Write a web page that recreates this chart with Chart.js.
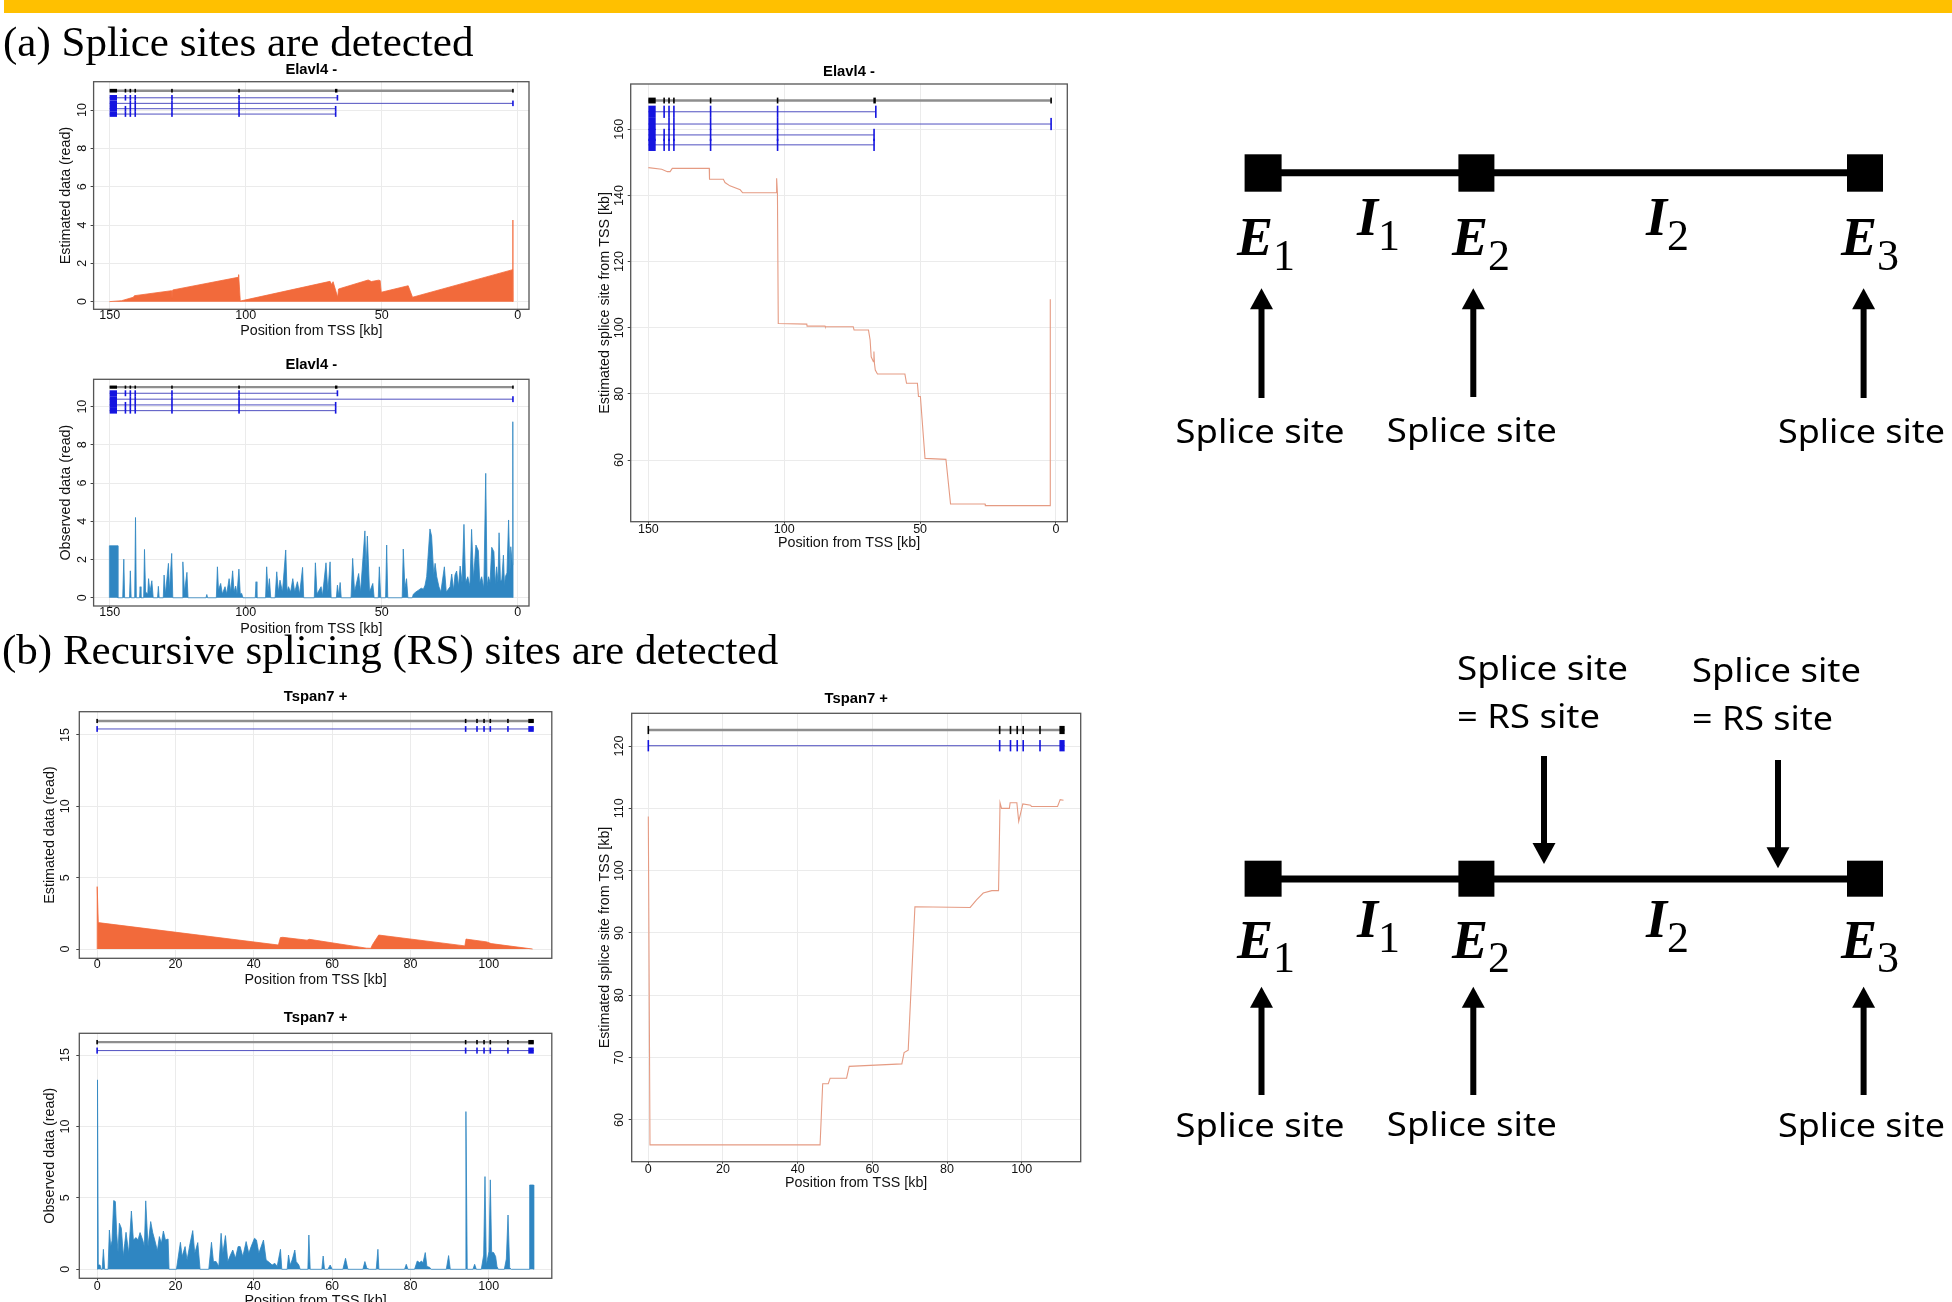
<!DOCTYPE html>
<html>
<head>
<meta charset="utf-8">
<script src="https://cdn.jsdelivr.net/npm/chart.js@4.4.1/dist/chart.umd.min.js"></script>
<style>
  html, body { margin: 0; padding: 0; background: #fff; }
  #page { position: relative; width: 1952px; height: 1302px; overflow: hidden; background: #fff; }
  #page canvas { position: absolute; }
  #bar { position: absolute; left: 4px; top: 0; width: 1948px; height: 13px; background: #ffc000; }
  #overlay { position: absolute; left: 0; top: 0; }
  .sec { font-family: 'Liberation Serif', 'Times New Roman', serif; font-size: 43px; }
  .ex { font-family: 'Liberation Serif', 'Times New Roman', serif; font-size: 54px; font-weight: bold; font-style: italic; }
  .sub { font-family: 'Liberation Serif', 'Times New Roman', serif; font-weight: normal; font-style: normal; font-size: 44px; }
  .lab { font-family: 'Noto Sans', 'Open Sans', sans-serif; font-size: 33px; }
</style>
</head>
<body>
<div id="page">
  <div id="bar"></div>
  <canvas id="a1"></canvas>
  <canvas id="a2"></canvas>
  <canvas id="a3"></canvas>
  <canvas id="b1"></canvas>
  <canvas id="b2"></canvas>
  <canvas id="b3"></canvas>
  <svg id="overlay" width="1952" height="1302">
    <text class="sec" x="3" y="56">(a) Splice sites are detected</text>
    <text class="sec" x="2" y="664">(b) Recursive splicing (RS) sites are detected</text>

    <!-- (a) exon / intron schematic -->
    <line x1="1263" y1="172.8" x2="1865" y2="172.8" stroke="#000" stroke-width="7"/>
    <rect x="1244.6" y="154.3" width="37" height="37.4"/>
    <rect x="1458.4" y="154.3" width="36" height="37.4"/>
    <rect x="1847" y="154.3" width="36" height="37.4"/>
    <text class="ex" x="1237" y="255">E<tspan class="sub" dy="15">1</tspan></text>
    <text class="ex" x="1357" y="235">I<tspan class="sub" dy="15">1</tspan></text>
    <text class="ex" x="1452" y="255">E<tspan class="sub" dy="15">2</tspan></text>
    <text class="ex" x="1646" y="235">I<tspan class="sub" dy="15">2</tspan></text>
    <text class="ex" x="1841" y="255">E<tspan class="sub" dy="15">3</tspan></text>
    <rect x="1258.5" y="306" width="6" height="92"/>
    <polygon points="1261.5,288.3 1250,309.3 1273,309.3"/>
    <rect x="1470.3" y="306" width="6" height="91"/>
    <polygon points="1473.3,288.3 1461.8,309.3 1484.8,309.3"/>
    <rect x="1860.6" y="306" width="6" height="92"/>
    <polygon points="1863.6,288.3 1852.1,309.3 1875.1,309.3"/>
    <text class="lab" x="1175.6" y="443.3" textLength="169" lengthAdjust="spacingAndGlyphs">Splice site</text>
    <text class="lab" x="1386.8" y="441.7" textLength="170" lengthAdjust="spacingAndGlyphs">Splice site</text>
    <text class="lab" x="1778" y="443" textLength="167" lengthAdjust="spacingAndGlyphs">Splice site</text>

    <!-- (b) schematic with recursive splicing sites -->
    <text class="lab" x="1457" y="680" textLength="171" lengthAdjust="spacingAndGlyphs">Splice site</text>
    <text class="lab" x="1457" y="728.3" textLength="143" lengthAdjust="spacingAndGlyphs">= RS site</text>
    <text class="lab" x="1692" y="681.7" textLength="169" lengthAdjust="spacingAndGlyphs">Splice site</text>
    <text class="lab" x="1692" y="730" textLength="141" lengthAdjust="spacingAndGlyphs">= RS site</text>
    <rect x="1541" y="756" width="6" height="90"/>
    <polygon points="1544,864 1532.5,843 1555.5,843"/>
    <rect x="1775" y="760" width="6" height="90"/>
    <polygon points="1778,868.3 1766.5,847.3 1789.5,847.3"/>
    <line x1="1263" y1="879" x2="1865" y2="879" stroke="#000" stroke-width="7"/>
    <rect x="1244.6" y="860.7" width="37" height="36"/>
    <rect x="1458.4" y="860.7" width="36" height="36"/>
    <rect x="1847" y="860.7" width="36" height="36"/>
    <text class="ex" x="1237" y="958.3">E<tspan class="sub" dy="14">1</tspan></text>
    <text class="ex" x="1357" y="936.7">I<tspan class="sub" dy="15">1</tspan></text>
    <text class="ex" x="1452" y="958.3">E<tspan class="sub" dy="14">2</tspan></text>
    <text class="ex" x="1646" y="936.7">I<tspan class="sub" dy="15">2</tspan></text>
    <text class="ex" x="1841" y="958.3">E<tspan class="sub" dy="14">3</tspan></text>
    <rect x="1258.5" y="1004" width="6" height="91"/>
    <polygon points="1261.5,986.7 1250,1007.7 1273,1007.7"/>
    <rect x="1470.3" y="1004" width="6" height="91"/>
    <polygon points="1473.3,986.7 1461.8,1007.7 1484.8,1007.7"/>
    <rect x="1860.6" y="1004" width="6" height="91"/>
    <polygon points="1863.6,986.7 1852.1,1007.7 1875.1,1007.7"/>
    <text class="lab" x="1175.6" y="1136.7" textLength="169" lengthAdjust="spacingAndGlyphs">Splice site</text>
    <text class="lab" x="1386.8" y="1136" textLength="170" lengthAdjust="spacingAndGlyphs">Splice site</text>
    <text class="lab" x="1778" y="1136.7" textLength="167" lengthAdjust="spacingAndGlyphs">Splice site</text>
  </svg>
</div>
<script>
// ---- data: [position from TSS (kb), value] ----
const estElavl4 = [[150.1,0],[145.6,0.05],[141.3,0.23],[140.9,0.31],[127.3,0.57],[127.1,0.17],[126.8,0.61],
  [102.8,1.27],[102.6,1.41],[102.0,0.03],[69.0,1.06],[68.4,0.89],[67.9,1.04],[66.2,0.23],[65.9,0.66],
  [55.0,1.13],[53.8,1.05],[51.2,1.12],[50.6,1.10],[50.2,0.49],[40.3,0.83],[38.7,0.23],[1.9,1.67],[1.85,4.26],[1.8,0]];

const obsElavl4 = [
  [150.1,0],[150.1,2.72],[147.0,2.72],[147.0,0],[145.2,0],[144.8,2.02],[144.5,0],[142.7,0],[142.4,1.41],[142.1,0],
  [140.8,0],[140.5,4.2],[140.2,0],[139.0,0],[138.8,0.58],[138.5,0],[137.5,0],[137.2,2.53],[136.8,0.3],[136.0,0.2],
  [135.7,1.0],[135.2,0.3],[134.5,0.89],[134.0,0],[132.4,0],[132.1,0.6],[131.8,0],[130.3,0],[130.0,1.19],[129.5,0.2],
  [128.4,1.8],[128.0,0.4],[127.2,2.32],[126.8,0],[123.4,0],[123.1,1.88],[122.5,0.3],[121.6,1.33],[121.2,0],
  [114.6,0],[114.3,0.17],[114.0,0],[110.8,0],[110.4,1.62],[110.0,0.4],[109.2,0.75],[108.6,0.2],[107.6,0.58],
  [107.0,0.2],[106.1,1.0],[105.5,0.3],[104.8,1.41],[104.3,0.3],[103.7,0.61],[103.2,0.2],[102.5,1.5],[102.0,0.2],
  [101.5,0.23],[101.0,0],[96.5,0],[96.2,0.84],[95.9,0],[92.7,0],[92.3,1.62],[91.8,0.3],[91.3,1.0],[90.8,0],
  [89.2,0],[88.6,1.36],[88.0,0.3],[87.4,0.92],[86.5,0.3],[85.3,2.5],[84.8,0.3],[84.3,0.58],[83.5,0.3],[82.7,1.0],
  [82.0,0.3],[81.0,0.84],[80.2,0.2],[79.1,1.59],[78.7,0],[74.8,0],[74.4,1.83],[73.8,0.2],[72.3,0.58],[71.8,0.1],
  [70.5,1.83],[69.8,0.3],[69.0,1.88],[68.6,0],[66.7,0],[66.3,0.66],[65.8,0.1],[65.3,0.8],[64.9,0],
  [61.3,0],[60.7,2.06],[60.0,0.3],[58.5,1.27],[57.8,0.3],[56.2,3.5],[55.8,1.5],[55.3,3.23],[54.5,0.3],[53.3,0.75],
  [52.8,0],[51.3,0],[50.9,1.62],[50.4,0],[48.6,0],[48.2,2.76],[47.8,0],[42.5,0],[42.1,2.55],[41.5,0.5],[40.9,1.0],
  [40.4,0],[38.8,0],[38.4,0.19],[37.5,0.3],[36.5,0.4],[35.5,0.5],[34.7,0.45],[34.1,0.66],[33.5,1.1],[32.3,3.6],
  [31.7,3.23],[30.9,1.2],[30.4,1.8],[29.8,1.1],[29.0,0.58],[28.3,0.3],[27.0,1.62],[26.3,0.3],[24.9,0.58],[24.3,1.24],
  [23.6,0.4],[23.1,1.19],[22.5,1.4],[21.8,0.6],[21.2,1.66],[20.5,0.8],[19.8,3.84],[19.2,0.8],[18.4,1.1],[17.6,0.6],
  [17.0,3.58],[16.3,1.0],[15.4,2.76],[14.5,2.46],[14.0,0.8],[13.3,1.1],[12.5,0.5],[11.8,6.51],[11.3,0.6],[10.8,1.1],
  [10.2,0.8],[9.6,2.64],[8.8,2.41],[8.3,0.7],[7.8,1.62],[7.3,0.8],[6.9,3.4],[6.4,0.9],[5.9,0.92],[5.3,2.23],
  [4.9,0.6],[4.6,1.1],[4.0,1.3],[3.4,4.07],[2.9,1.3],[2.6,2.67],[2.0,1.71],[1.85,9.21],[1.75,0]];

const siteElavl4 = [[150,148.4],[145.1,147.9],[143,147.2],[142,147.2],[141.2,148.2],[127.6,148.2],[127.5,144.9],
  [122.4,144.9],[121.8,143.9],[120,142.9],[116.2,141.7],[115.3,140.8],[102.9,140.8],[102.8,145.2],[102.5,140.6],
  [102.2,101.3],[91.7,101.1],[91.6,100.5],[85,100.5],[84.9,100.3],[74.6,100.3],[74.3,99.3],[69.0,99.3],[68.4,96.3],
  [68.0,91.2],[67.2,89.7],[67.0,92.8],[66.8,89.2],[66.5,87.2],[65.7,86.0],[55.6,86.0],[55.0,83.2],[51.0,83.2],
  [50.6,79.2],[49.9,79.2],[48.2,60.5],[40.5,60.2],[38.8,46.7],[26.1,46.7],[26.0,46.2],[2.2,46.2],[2.1,108.6]];

const estTspan7 = [[0,0],[0.02,4.37],[0.3,1.85],[46.3,0.28],[46.8,0.80],[47.4,0.82],[53.6,0.62],[54.2,0.68],
  [68.8,0.06],[69.9,0.05],[70.3,0.30],[71.9,0.98],[93.9,0.22],[94.2,0.70],[94.6,0.68],[99.5,0.50],[100.6,0.38],[111.2,0]];

const obsTspan7 = [
  [0.0,0],[0.1,13.26],[0.3,0.3],[0.74,0.3],[1.0,0],[1.3,0],[1.6,1.4],[1.93,0],[2.79,0],[3.13,2.75],[3.47,1.59],
  [3.81,2.0],[4.23,4.81],[4.66,4.74],[5.0,2.52],[5.34,1.2],[5.68,3.22],[6.19,2.87],[6.7,0.89],[7.04,1.8],[7.38,2.59],
  [8.07,1.12],[8.75,4.08],[9.26,2.05],[9.94,2.22],[10.45,2.05],[10.96,2.57],[11.64,2.05],[12.07,1.6],[12.41,4.79],
  [13.0,1.59],[13.68,3.34],[14.2,2.57],[14.71,2.05],[15.39,1.3],[15.9,2.29],[16.41,1.82],[16.92,2.68],[17.44,2.05],
  [18.12,2.12],[18.37,0],[20.25,0],[21.27,1.89],[21.7,0.89],[22.46,1.59],[22.97,0.65],[23.74,1.82],[24.42,2.71],
  [24.93,1.12],[25.7,1.87],[26.29,0],[28.51,0],[29.2,1.89],[29.7,0.54],[30.38,0.54],[31.07,0.2],[31.66,2.52],
  [32.09,1.1],[32.77,2.36],[33.37,0.54],[34.05,1.0],[34.64,1.35],[35.32,0.77],[36.0,1.59],[36.52,1.59],[37.2,0.89],
  [38.05,1.94],[38.73,1.12],[39.33,1.59],[40.18,2.17],[40.69,2.05],[41.29,1.12],[42.48,2.05],[43.16,0.65],
  [44.01,0.47],[44.69,0.3],[45.37,0.42],[45.97,0.2],[46.82,1.4],[47.16,0],[48.53,0],[48.87,1.0],[49.29,0.3],
  [49.8,0.65],[50.48,1.35],[50.83,0.54],[51.51,0.3],[51.85,0],[53.81,0],[54.07,2.4],[54.41,0],[57.38,0],[57.72,0.93],
  [58.06,0],[58.92,0],[59.51,0.3],[60.03,0],[62.75,0],[63.43,0.77],[64.03,0],[67.86,0],[68.37,0.54],[68.88,0.07],
  [69.56,0],[71.27,0],[71.7,1.4],[71.95,0],[78.51,0],[78.94,0.35],[79.36,0],[81.06,0],[81.74,0.58],[82.34,0.47],
  [82.85,0.58],[83.19,0.42],[83.79,1.17],[84.21,0.2],[84.9,0.14],[85.32,0],[89.16,0],[89.75,0.96],[90.18,0],
  [94.0,0],[94.17,11.04],[94.51,0],[95.97,0],[96.4,0.35],[96.82,0],[98.1,0],[98.7,1.0],[99.04,6.49],[99.38,0.3],
  [100.06,1.24],[100.4,6.26],[100.74,1.2],[101.25,1.17],[101.76,0.89],[102.1,0.2],[102.44,0],[103.98,0],
  [104.49,0.72],[104.92,3.8],[105.35,0.1],[105.77,0],[110.45,0],[110.45,5.9],[111.47,5.9],[111.47,0]];

const siteTspan7 = [[0,108.7],[0.45,56.0],[46.0,56.0],[46.7,65.8],[48.2,65.8],[48.7,66.7],[53.1,66.7],[53.8,68.6],
  [67.9,69.0],[68.5,70.8],[69.6,71.2],[71.4,94.2],[86.2,94.1],[87.9,95.3],[89.7,96.4],[92.0,96.8],[93.8,96.8],
  [94.2,110.9],[94.6,110.0],[96.7,110.0],[96.9,110.9],[98.7,110.9],[99.2,107.9],[100.3,110.7],[102.4,110.5],
  [102.6,110.3],[109.6,110.3],[110.3,111.4],[111.2,111.3]];

// tick values
const ticksElavl4X = [150, 100, 50, 0];
const ticksTspan7X = [0, 20, 40, 60, 80, 100];
const ticksReadsA = [0, 2, 4, 6, 8, 10];
const ticksReadsB = [0, 5, 10, 15];
const ticksSiteA = [60, 80, 100, 120, 140, 160];
const ticksSiteB = [60, 70, 80, 90, 100, 110, 120];

// gene models (kb); an exon is [start, end] or a single position
const elavl4Gene = { span: [150, 1.8], exons: [[150, 147.3], [144.2], [142.4], [140.6], [127.1], [102.6, 102.3], [67.2, 66.3], [1.8]] };
const elavl4Transcripts = [
  { end: 66.3, exons: [[150, 147.3], [144.2], [142.4], [140.6], [127.1], [102.6, 102.3], [66.3]] },
  { end: 1.8,  exons: [[150, 147.3], [142.4], [140.6], [127.1], [102.6, 102.3], [1.8]] },
  { end: 66.9, exons: [[150, 147.3], [144.2], [142.4], [140.6], [127.1], [102.6, 102.3], [67.1, 66.8]] },
  { end: 66.9, exons: [[150, 147.3], [144.2], [142.4], [140.6], [127.1], [102.6, 102.3], [67.1, 66.8]] }
];
const tspan7Gene = { span: [0, 111.5], exons: [[0], [94.1], [97.0], [98.8], [100.4], [104.9], [110.1, 111.5]] };
const tspan7Transcripts = [
  { end: 111.5, exons: [[0], [94.1], [97.0], [98.8], [100.4], [104.9], [110.1, 111.5]] }
];

// track heights in each panel's own y units: gene line first, then transcripts
const levelsA1 = [11.01, 10.64, 10.35, 10.07, 9.79];
const levelsA2 = [11.02, 10.70, 10.39, 10.09, 9.79];
const levelsA3 = [168.7, 165.3, 161.6, 158.3, 155.3];
const levelsB1 = [15.98, 15.42];
const levelsB2 = [15.90, 15.31];
const levelsB3 = [122.57, 120.05];

// ---- drawing ----
const FONT = "'Liberation Sans', Arial, Helvetica, sans-serif";
const TITLE_FS = 14.8, TICK_FS = 12.5, AXIS_FS = 14.3;
const TITLE_LH = TITLE_FS * 1.2, TICK_LH = TICK_FS * 1.2, AXIS_LH = AXIS_FS * 1.2;
const Y_TICK_LEN = 3, X_TICK_LEN = 2;
const GRID = '#ebebeb';

const geneTrack = {
  id: 'geneTrack',
  afterDatasetsDraw(chart, args, opts) {
    if (!opts || !opts.gene) return;
    const { ctx, scales: { x, y } } = chart;
    const { gene, transcripts, levels } = opts;
    const px = v => x.getPixelForValue(v);
    const gy = y.getPixelForValue(levels[0]);
    const ty = levels.slice(1).map(v => y.getPixelForValue(v));
    const first = Math.abs(ty[0] - gy);
    const half = ty.length > 1 ? Math.abs(ty[1] - ty[0]) / 2 : first * 0.36;
    const gHalf = first * 0.26;
    const block = (e, cy, h) => {
      const a = px(e[0]);
      const b = px(e.length > 1 ? e[1] : e[0]);
      let l = Math.min(a, b), w = Math.abs(b - a);
      if (w < 1.6) { l = (a + b) / 2 - 0.8; w = 1.6; }
      ctx.fillRect(l, cy - h, w, 2 * h);
    };
    ctx.save();
    ctx.strokeStyle = '#8e8e8e';
    ctx.lineWidth = 2.4;
    ctx.beginPath(); ctx.moveTo(px(gene.span[0]), gy); ctx.lineTo(px(gene.span[1]), gy); ctx.stroke();
    ctx.fillStyle = '#000';
    gene.exons.forEach(e => block(e, gy, gHalf));
    transcripts.forEach((t, i) => {
      ctx.strokeStyle = '#5050c0';
      ctx.lineWidth = 1;
      ctx.beginPath(); ctx.moveTo(px(gene.span[0]), ty[i]); ctx.lineTo(px(t.end), ty[i]); ctx.stroke();
      ctx.fillStyle = '#1414e0';
      t.exons.forEach(e => block(e, ty[i], half));
    });
    ctx.restore();
  }
};

const frame = {
  id: 'frame',
  afterDraw(chart) {
    const { ctx, chartArea: { left, top, right, bottom } } = chart;
    ctx.save();
    ctx.strokeStyle = '#555';
    ctx.lineWidth = 1.3;
    ctx.strokeRect(left, top, right - left, bottom - top);
    ctx.restore();
  }
};

const measureCtx = document.createElement('canvas').getContext('2d');
function textWidth(s, size) {
  measureCtx.font = size + 'px ' + FONT;
  return measureCtx.measureText(s).width;
}

const styles = {
  est: { fill: 'origin', backgroundColor: '#f26a3b', borderColor: '#f26a3b', borderWidth: 0.8 },
  obs: { fill: 'origin', backgroundColor: '#2f86c2', borderColor: '#2f86c2', borderWidth: 0.8 },
  site: { fill: false, borderColor: '#e59b83', borderWidth: 1.1 }
};

function makePanel(p) {
  const [bl, bt, br, bb] = p.box;
  const canvasLeft = Math.round(p.yTitleX - AXIS_LH / 2 - 2);
  const canvasTop = Math.round(p.titleY - TITLE_LH / 2);
  const yW = bl - canvasLeft;
  const titlePadB = bt - canvasTop - TITLE_LH;
  const xH = p.xTitleY - bb + AXIS_LH / 2;
  const W = Math.ceil(yW + (br - bl) + 16);
  const H = Math.ceil(bb - canvasTop + xH + 4);
  const padR = W - yW - (br - bl);
  const padB = H - (bb - canvasTop) - xH;

  const widest = Math.max(...p.yTicks.map(v => textWidth(String(v), TICK_FS)));
  const yTickPad = bl - Y_TICK_LEN - widest / 2 - p.yTickX;
  const xTickPad = p.xTickY - bb - X_TICK_LEN - TICK_LH / 2;

  const cv = document.getElementById(p.id);
  cv.width = W; cv.height = H;
  cv.style.left = canvasLeft + 'px'; cv.style.top = canvasTop + 'px';
  cv.style.width = W + 'px'; cv.style.height = H + 'px';

  const [xMin, xMax, rev] = p.x;
  const [yMin, yMax] = p.y;
  new Chart(cv, {
    type: 'line',
    data: {
      datasets: [Object.assign({
        data: p.series.map(([x, y]) => ({ x, y })),
        pointRadius: 0, tension: 0
      }, styles[p.kind])]
    },
    options: {
      responsive: false, animation: false, devicePixelRatio: 1,
      layout: { padding: { left: 0, top: 0, right: padR, bottom: padB } },
      plugins: {
        legend: { display: false },
        tooltip: { enabled: false },
        title: {
          display: true, text: p.title, fullSize: false, color: '#000',
          font: { family: FONT, size: TITLE_FS, weight: 'bold', lineHeight: 1.2 },
          padding: { top: 0, bottom: titlePadB }
        },
        geneTrack: { gene: p.gene, transcripts: p.transcripts, levels: p.levels }
      },
      scales: {
        x: {
          type: 'linear', min: xMin, max: xMax, reverse: rev,
          border: { display: false },
          grid: { color: GRID, tickColor: '#444', tickLength: X_TICK_LEN },
          afterBuildTicks: s => { s.ticks = p.xTicks.map(v => ({ value: v })); },
          ticks: {
            autoSkip: false, maxRotation: 0, minRotation: 0,
            padding: xTickPad, color: '#111', font: { family: FONT, size: TICK_FS },
            callback: v => String(v)
          },
          title: {
            display: true, text: 'Position from TSS [kb]', color: '#111',
            font: { family: FONT, size: AXIS_FS }, padding: { top: 0, bottom: 0 }
          },
          afterFit: s => { s.height = xH; s.paddingLeft = 0; s.paddingRight = 0; }
        },
        y: {
          type: 'linear', min: yMin, max: yMax,
          border: { display: false },
          grid: { color: GRID, tickColor: '#444', tickLength: Y_TICK_LEN },
          afterBuildTicks: s => { s.ticks = p.yTicks.map(v => ({ value: v })); },
          ticks: {
            autoSkip: false, minRotation: 90, maxRotation: 90,
            crossAlign: 'center', padding: yTickPad, color: '#111', font: { family: FONT, size: TICK_FS },
            callback: v => String(v)
          },
          title: {
            display: true, text: p.yTitle, color: '#111',
            font: { family: FONT, size: AXIS_FS }, padding: { top: 2, bottom: 0 }
          },
          afterFit: s => { s.width = yW; s.paddingTop = 0; s.paddingBottom = 0; }
        }
      }
    },
    plugins: [geneTrack, frame]
  });
}

const panels = [
  { id: 'a1', title: 'Elavl4 -', yTitle: 'Estimated data (read)', series: estElavl4, kind: 'est',
    gene: elavl4Gene, transcripts: elavl4Transcripts, levels: levelsA1, xTicks: ticksElavl4X, yTicks: ticksReadsA,
    box: [93.6, 81.7, 529, 309.3], titleY: 70, xTickY: 316, xTitleY: 331, yTickX: 82.7, yTitleX: 66,
    x: [-4.1, 155.9, true], y: [-0.40, 11.48] },
  { id: 'a2', title: 'Elavl4 -', yTitle: 'Observed data (read)', series: obsElavl4, kind: 'obs',
    gene: elavl4Gene, transcripts: elavl4Transcripts, levels: levelsA2, xTicks: ticksElavl4X, yTicks: ticksReadsA,
    box: [93.6, 379.3, 529, 606], titleY: 365, xTickY: 612.7, xTitleY: 629, yTickX: 82.7, yTitleX: 66,
    x: [-4.1, 155.9, true], y: [-0.43, 11.43] },
  { id: 'a3', title: 'Elavl4 -', yTitle: 'Estimated splice site from TSS [kb]', series: siteElavl4, kind: 'site',
    gene: elavl4Gene, transcripts: elavl4Transcripts, levels: levelsA3, xTicks: ticksElavl4X, yTicks: ticksSiteA,
    box: [630.7, 84, 1067.3, 521.7], titleY: 71.7, xTickY: 529.3, xTitleY: 542.7, yTickX: 619.3, yTitleX: 605,
    x: [-4.16, 156.5, true], y: [41.35, 173.7] },
  { id: 'b1', title: 'Tspan7 +', yTitle: 'Estimated data (read)', series: estTspan7, kind: 'est',
    gene: tspan7Gene, transcripts: tspan7Transcripts, levels: levelsB1, xTicks: ticksTspan7X, yTicks: ticksReadsB,
    box: [79.3, 711.7, 551.8, 958.3], titleY: 696.7, xTickY: 965, xTitleY: 980, yTickX: 66, yTitleX: 50,
    x: [-4.55, 116.1, false], y: [-0.65, 16.63] },
  { id: 'b2', title: 'Tspan7 +', yTitle: 'Observed data (read)', series: obsTspan7, kind: 'obs',
    gene: tspan7Gene, transcripts: tspan7Transcripts, levels: levelsB2, xTicks: ticksTspan7X, yTicks: ticksReadsB,
    box: [79.3, 1033.3, 551.8, 1278.3], titleY: 1018.3, xTickY: 1286.7, xTitleY: 1301, yTickX: 66, yTitleX: 50,
    x: [-4.55, 116.1, false], y: [-0.63, 16.52] },
  { id: 'b3', title: 'Tspan7 +', yTitle: 'Estimated splice site from TSS [kb]', series: siteTspan7, kind: 'site',
    gene: tspan7Gene, transcripts: tspan7Transcripts, levels: levelsB3, xTicks: ticksTspan7X, yTicks: ticksSiteB,
    box: [631.7, 713.3, 1080.7, 1161.7], titleY: 699, xTickY: 1169.3, xTitleY: 1183.3, yTickX: 620, yTitleX: 605,
    x: [-4.45, 115.8, false], y: [53.3, 125.25] }
];

panels.forEach(makePanel);
</script>
</body>
</html>
